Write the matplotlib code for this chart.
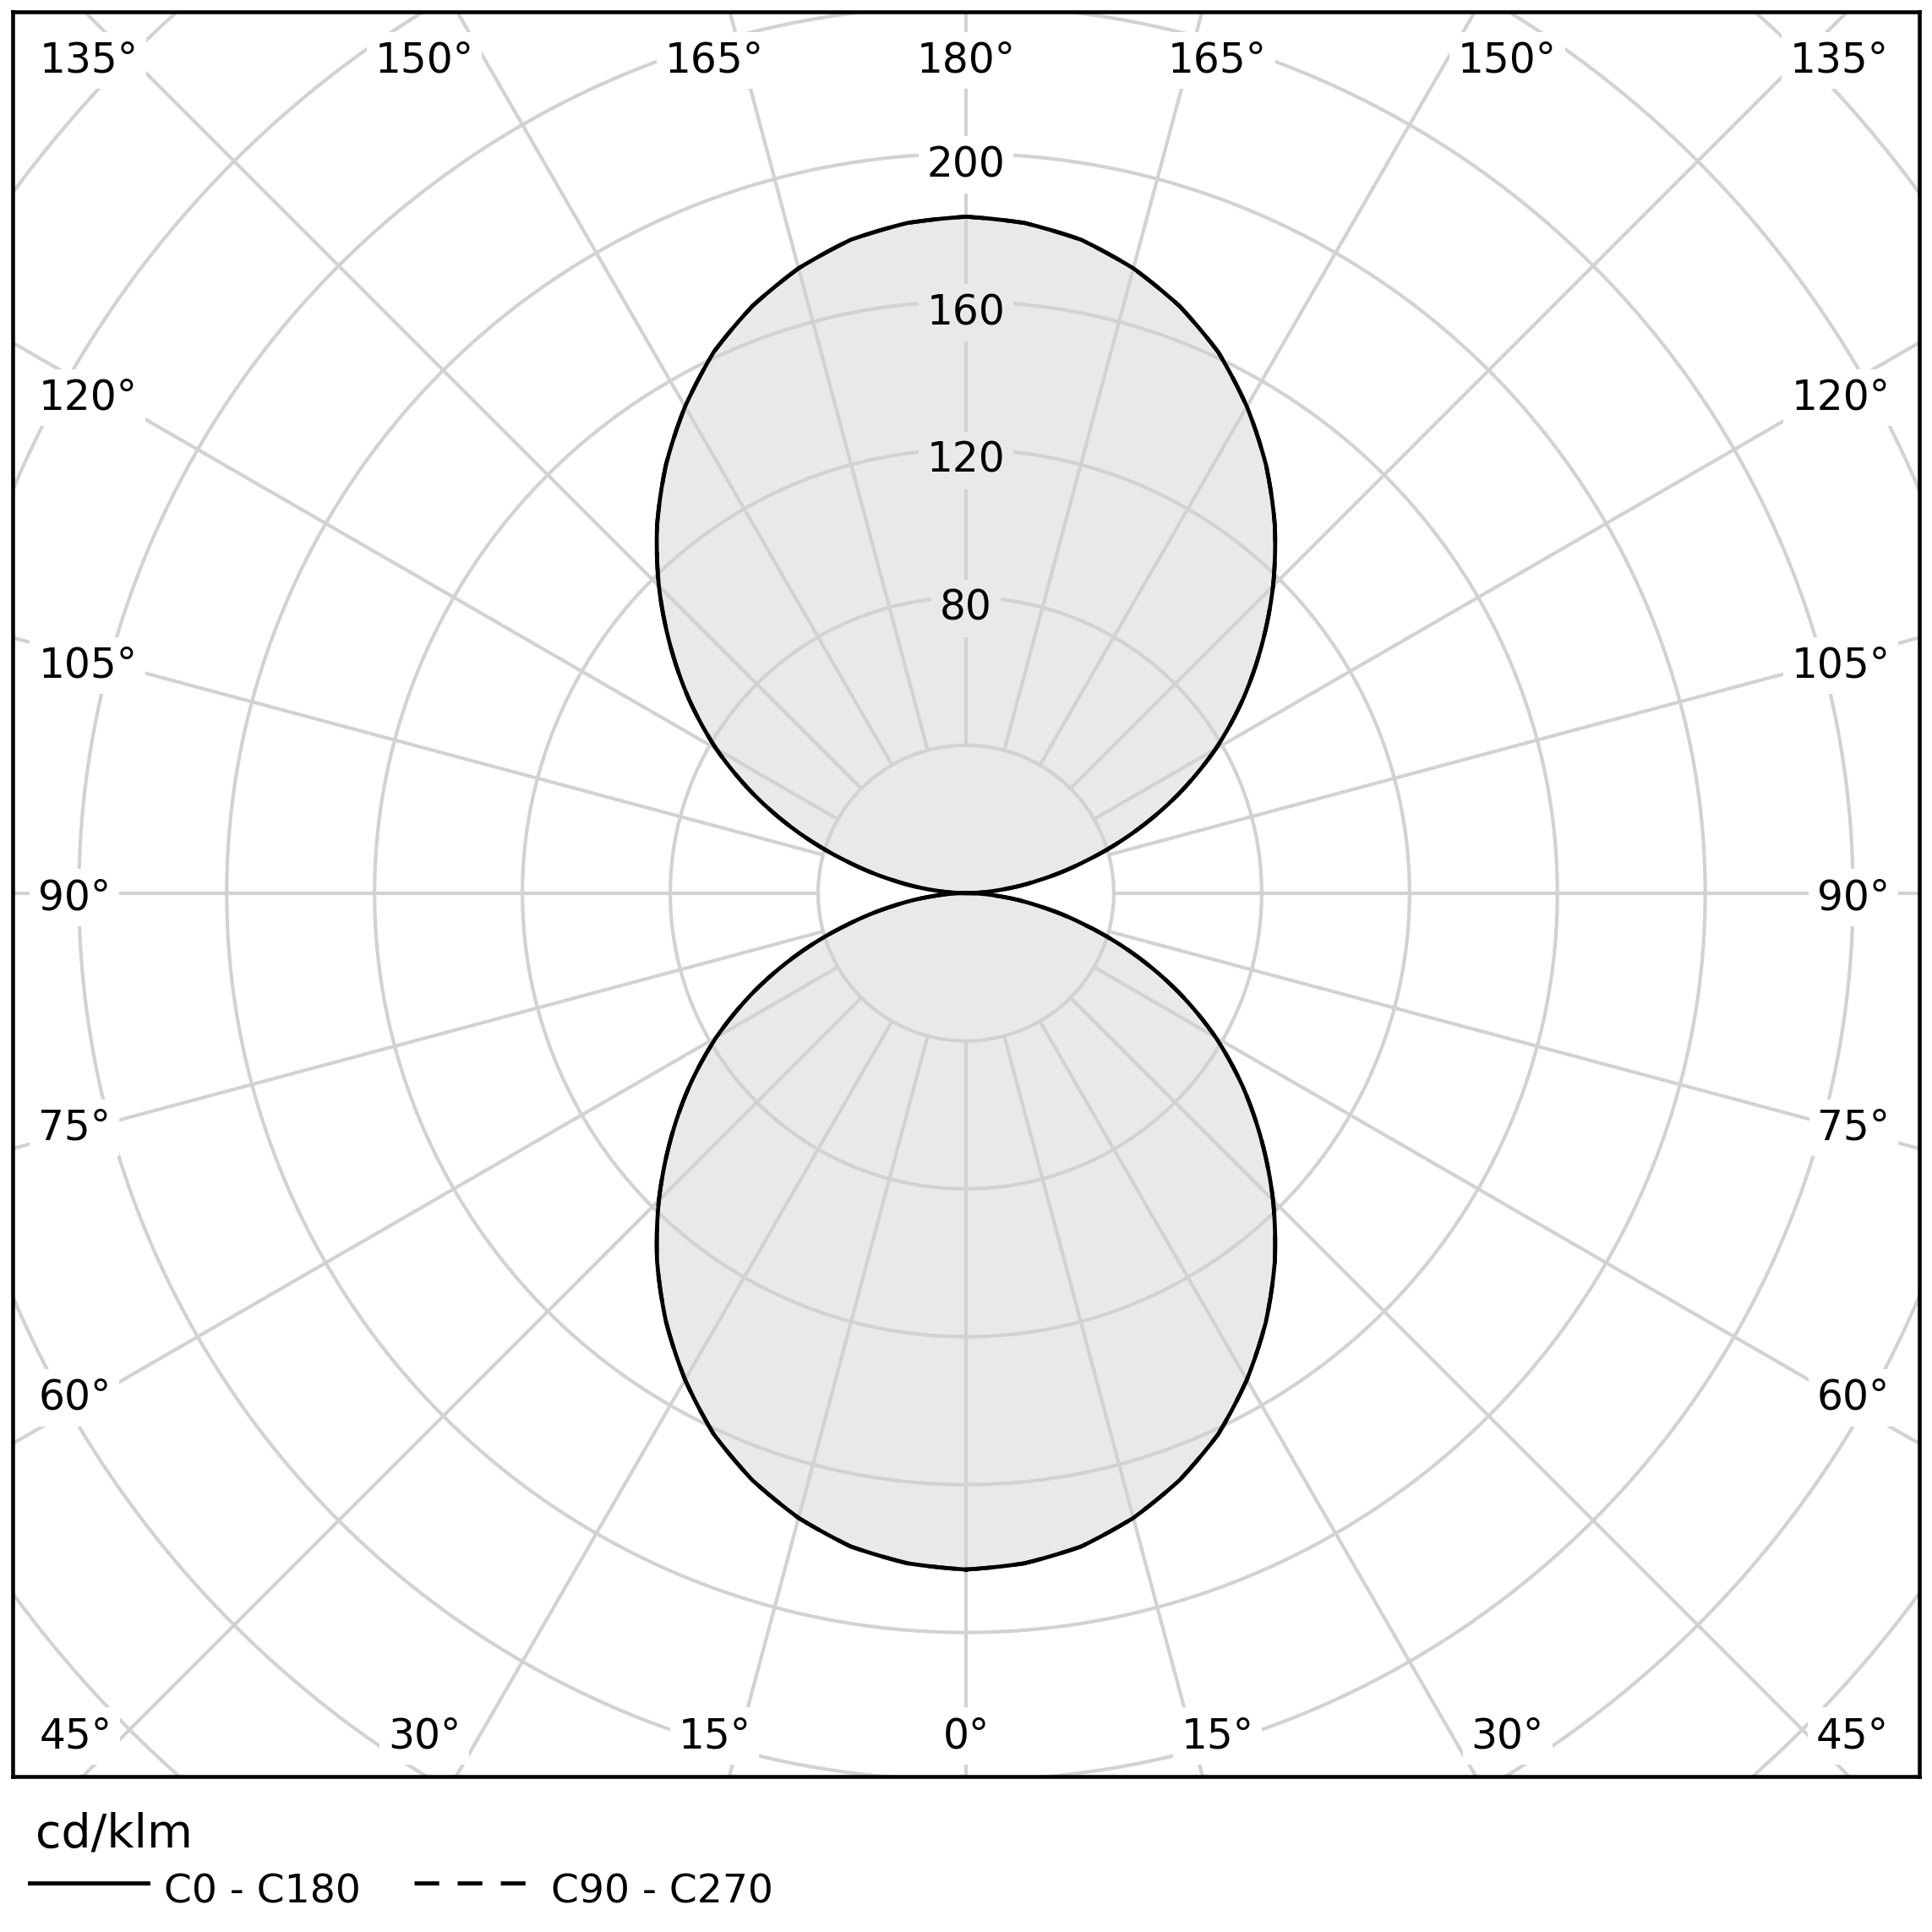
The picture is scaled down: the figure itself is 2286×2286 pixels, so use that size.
import numpy as np
import matplotlib.pyplot as plt
from matplotlib.lines import Line2D

plt.rcParams['font.family'] = ['DejaVu Sans']

# luminous intensity (cd/klm), gamma 0..180 in 5 deg steps
gamma = np.arange(0, 181, 5)
c0_c180 = [183, 182, 179.5, 175, 169, 161.5, 152, 141.5, 130, 117.5, 104.5, 91.5, 78,
           63.5, 48.5, 33.5, 20, 8.5, 0,
           8.5, 20, 33.5, 48.5, 63.5, 78, 91.5, 104.5, 117.5, 130, 141.5, 152, 161.5, 169,
           175, 179.5, 182, 183]
c90_c270 = [183, 182, 179.5, 175, 169, 161.5, 152, 141.5, 130, 117.5, 104.5, 91.5, 78,
            63.5, 48.5, 33.5, 20, 8.5, 0,
            8.5, 20, 33.5, 48.5, 63.5, 78, 91.5, 104.5, 117.5, 130, 141.5, 152, 161.5, 169,
            175, 179.5, 182, 183]

rings = [40, 80, 120, 160, 200, 240, 280, 320]
ring_labels = [80, 120, 160, 200]
top_labels = ['135°', '150°', '165°', '180°', '165°', '150°', '135°']
bottom_labels = ['45°', '30°', '15°', '0°', '15°', '30°', '45°']
side_labels = ['120°', '105°', '90°', '75°', '60°']

grid_col = '#d2d2d2'
fill_col = '#e9e9e9'
R = 200

fig = plt.figure(figsize=(22.86, 22.86), dpi=100)
ax_rect = [0.00638, 0.0804, 0.9872, 0.9133]

# polar axes for the fill (below the grid), placed so its centre/scale match the frame
pfill = fig.add_axes(ax_rect, projection='polar')
ax = fig.add_axes(ax_rect)
ax.set_xlim(-258, 258)
ax.set_ylim(-239, 238.3)
p0 = fig.transFigure.inverted().transform(ax.transData.transform((-R, -R)))
p1 = fig.transFigure.inverted().transform(ax.transData.transform((R, R)))
prect = [p0[0], p0[1], p1[0] - p0[0], p1[1] - p0[1]]
pfill.set_position(prect)
pline = fig.add_axes(prect, projection='polar')

for p in (pfill, pline):
    p.set_theta_zero_location('S')
    p.set_ylim(0, R)
    p.set_axis_off()

ax.patch.set_visible(False)
ax.set_xticks([])
ax.set_yticks([])
for s in ax.spines.values():
    s.set_linewidth(3.3)
    s.set_color('black')
    s.set_zorder(10)

# C0 on the right half, C180 mirrored on the left half (theta 180..360)
th = np.radians(gamma)
theta = np.concatenate([th, 2 * np.pi - th[::-1]])
r_c0 = np.concatenate([c0_c180, c0_c180[::-1]])
r_c90 = np.concatenate([c90_c270, c90_c270[::-1]])

poly = pfill.fill(theta, r_c0, color=fill_col, lw=0)[0]
poly.get_path()._interpolation_steps = 16
l90 = pline.plot(theta, r_c90, color='black', lw=3.4, ls=(0, (7, 5)))[0]
l90.get_path()._interpolation_steps = 16
l0 = pline.plot(theta, r_c0, color='black', lw=3.4)[0]
l0.get_path()._interpolation_steps = 16

# grid
t = np.linspace(0, 2 * np.pi, 721)
for r in rings:
    ax.plot(r * np.cos(t), r * np.sin(t), color=grid_col, lw=3.0, zorder=2)
for a in range(0, 360, 15):
    ar = np.radians(a)
    ax.plot([40 * np.sin(ar), 500 * np.sin(ar)], [-40 * np.cos(ar), -500 * np.cos(ar)],
            color=grid_col, lw=3.0, zorder=2)

# ring labels
for r in ring_labels:
    bg = fill_col if r < c0_c180[-1] else 'white'
    ax.text(0, r - 3, str(r), ha='center', va='center', fontsize=35, zorder=4,
            bbox=dict(boxstyle='square,pad=0.2', fc=bg, ec='none'))

lbl_box = dict(boxstyle='square,pad=0.2', fc='white', ec='none')
top_x = [-250.7, -146.5, -68, 0, 68, 146.5, 249.7]
for i, (txt, x) in enumerate(zip(top_labels, top_x)):
    ha = 'left' if i == 0 else ('right' if i == len(top_labels) - 1 else 'center')
    ax.text(x, 225.3, txt, ha=ha, va='center', fontsize=35, zorder=4, bbox=lbl_box)
for i, (txt, x) in enumerate(zip(bottom_labels, top_x)):
    ha = 'left' if i == 0 else ('right' if i == len(bottom_labels) - 1 else 'center')
    ax.text(x, -228, txt, ha=ha, va='center', fontsize=35, zorder=4, bbox=lbl_box)
side_y = [134, 61.5, -1.2, -63.5, -136.5]
for txt, y in zip(side_labels, side_y):
    ax.text(-251, y, txt, ha='left', va='center', fontsize=35, zorder=4, bbox=lbl_box)
    ax.text(250, y, txt, ha='right', va='center', fontsize=35, zorder=4, bbox=lbl_box)

# legend
fig.text(0.0184, 0.044, 'cd/klm', fontsize=40, va='baseline', ha='left')
fig.add_artist(Line2D([0.0153, 0.0765], [0.0255, 0.0255], color='black', lw=3.5,
                      transform=fig.transFigure))
fig.text(0.0849, 0.0149, 'C0 - C180', fontsize=34, va='baseline', ha='left')
fig.add_artist(Line2D([0.2143, 0.273], [0.0255, 0.0255], color='black', lw=3.5,
                      ls=(0, (6, 4.5)), transform=fig.transFigure))
fig.text(0.2852, 0.0149, 'C90 - C270', fontsize=34, va='baseline', ha='left')

fig.savefig('out.png', dpi=100, facecolor='white')
